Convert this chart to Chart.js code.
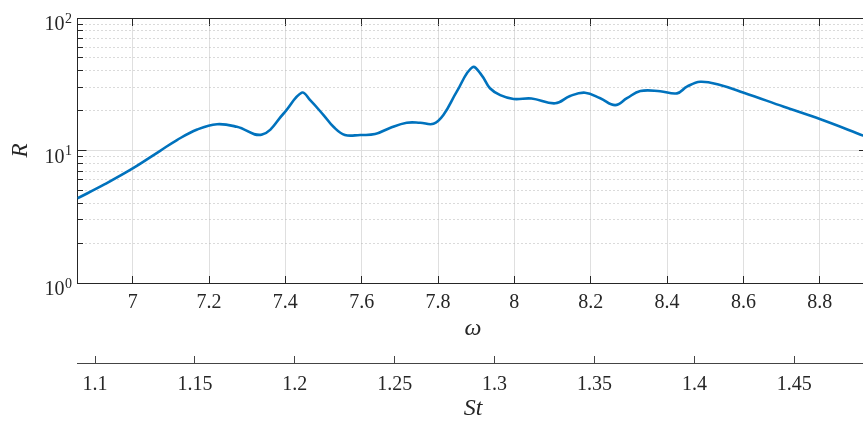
<!DOCTYPE html>
<html>
<head>
<meta charset="utf-8">
<script src="https://cdn.jsdelivr.net/npm/chart.js@4.4.1/dist/chart.umd.min.js"></script>
<style>
  html, body { margin: 0; padding: 0; background: #fff; overflow: hidden; }
  #wrap { width: 863px; height: 423px; overflow: hidden; }
</style>
</head>
<body>
<div id="wrap"><canvas id="chart" width="885" height="423"></canvas></div>
<script>
// response curve
const omega = [6.855, 6.927, 7.0, 7.072, 7.116, 7.169, 7.221, 7.273, 7.339, 7.396,
  7.443, 7.465, 7.5, 7.526, 7.556, 7.596, 7.635, 7.674, 7.718, 7.753,
  7.788, 7.814, 7.849, 7.89, 7.914, 7.936, 7.963, 7.998, 8.045, 8.107,
  8.146, 8.185, 8.225, 8.264, 8.295, 8.33, 8.382, 8.426, 8.452, 8.487,
  8.539, 8.601, 8.706, 8.802, 8.916];
const rValues = [4.35, 5.57, 7.32, 9.95, 12.0, 14.4, 15.8, 15.1, 13.2, 19.1,
  27.3, 24.0, 18.5, 15.1, 13.1, 13.1, 13.3, 14.8, 16.2, 16.2,
  15.9, 18.5, 27.8, 42.5, 37.1, 29.5, 26.2, 24.5, 24.7, 22.7,
  25.8, 27.3, 24.8, 22.0, 24.8, 28.1, 28.0, 27.0, 30.3, 33.0,
  31.2, 27.3, 21.4, 17.2, 12.9];

const omegaTicks = [7, 7.2, 7.4, 7.6, 7.8, 8, 8.2, 8.4, 8.6, 8.8];
const stTicks = [1.1, 1.15, 1.2, 1.25, 1.3, 1.35, 1.4, 1.45];
const rMajorTicks = [1, 10, 100];
const rMinorTicks = [2, 3, 4, 5, 6, 7, 8, 9, 20, 30, 40, 50, 60, 70, 80, 90];
const rTickExps = ['0', '1', '2'];

const omegaRange = [6.8554, 8.9278];
const stRange = [1.09124, 1.48714];

(function() {
  const ink = '#262626';
  const gridColor = '#dfdfdf';
  const minorGrid = '#b4b4b4';
  const serif = '"Liberation Serif", "Times New Roman", serif';
  const tickFont = { family: serif, size: 20 };
  const titleFont = { family: serif, size: 24, style: 'italic' };

  const setTicks = list => scale => { scale.ticks = list.map(v => ({ value: v })); };

  // 10^k labels on the R axis, drawn with a raised exponent
  const powerLabels = {
    id: 'powerLabels',
    afterDraw(chart) {
      const y = chart.scales.y;
      const ctx = chart.ctx;
      const right = 72;
      ctx.save();
      ctx.fillStyle = ink;
      ctx.textAlign = 'right';
      ctx.textBaseline = 'alphabetic';
      rMajorTicks.forEach((v, i) => {
        const py = y.getPixelForValue(v);
        ctx.font = '14px ' + serif;
        const expW = ctx.measureText(rTickExps[i]).width;
        ctx.fillText(rTickExps[i], right, py + 4.7);
        ctx.font = '20px ' + serif;
        ctx.fillText('10', right - expW - 0.5, py + 12.4);
      });
      ctx.restore();
    }
  };

  const ctx = document.getElementById('chart').getContext('2d');
  new Chart(ctx, {
    type: 'line',
    data: {
      datasets: [{
        data: omega.map((w, i) => ({ x: w, y: rValues[i] })),
        xAxisID: 'x',
        yAxisID: 'y',
        borderColor: '#0072BD',
        borderWidth: 2.6,
        pointRadius: 0,
        fill: false,
        tension: 0.4
      }]
    },
    options: {
      responsive: false,
      animation: false,
      events: [],
      layout: { padding: { left: 0, top: 18, right: 16.5, bottom: 0 } },
      plugins: { legend: { display: false }, tooltip: { enabled: false } },
      scales: {
        x: {
          type: 'linear', axis: 'x', position: 'bottom', weight: 0,
          min: omegaRange[0], max: omegaRange[1],
          afterBuildTicks: setTicks(omegaTicks),
          afterFit: s => { s.height = 80; },
          ticks: { font: tickFont, color: ink, padding: 15, maxRotation: 0, autoSkip: false,
                   callback: v => String(v) },
          grid: { color: gridColor, lineWidth: 1, tickLength: -7, tickColor: ink, tickWidth: 1 },
          border: { display: true, color: ink, width: 1 },
          title: { display: true, text: 'ω', font: titleFont, color: ink, padding: { top: 0, bottom: 20 } }
        },
        st: {
          type: 'linear', axis: 'x', position: 'bottom', weight: 1,
          min: stRange[0], max: stRange[1],
          afterBuildTicks: setTicks(stTicks),
          afterFit: s => { s.height = 60; },
          ticks: { font: tickFont, color: ink, padding: 17, maxRotation: 0, autoSkip: false,
                   callback: v => String(v) },
          grid: { drawOnChartArea: false, tickLength: -7, tickColor: '#444', tickWidth: 1 },
          border: { display: true, color: '#444', width: 1 },
          title: { display: true, text: 'St', font: titleFont, color: ink, padding: { top: 0, bottom: 0 } }
        },
        xTop: {
          type: 'linear', axis: 'x', position: { y: 100 },
          min: omegaRange[0], max: omegaRange[1],
          afterBuildTicks: setTicks(omegaTicks),
          ticks: { display: false },
          grid: { drawOnChartArea: false, tickLength: 7, tickColor: ink, tickWidth: 1 },
          border: { display: true, color: ink, width: 1 }
        },
        y: {
          type: 'logarithmic', axis: 'y', position: 'left',
          min: 1, max: 100,
          afterBuildTicks: setTicks(rMajorTicks),
          afterFit: s => { s.width = 77.5; },
          ticks: { display: false },
          grid: {
            color: c => (c.tick && c.tick.value === 10) ? gridColor : 'rgba(0,0,0,0)',
            tickLength: -9, tickColor: ink, tickWidth: 1
          },
          border: { display: true, color: ink, width: 1 },
          title: { display: true, text: 'R', color: ink,
                   font: { family: serif, size: 23, style: 'italic' }, padding: { top: 7, bottom: 0 } }
        },
        yMinor: {
          type: 'logarithmic', axis: 'y', position: { x: omegaRange[0] },
          min: 1, max: 100,
          afterBuildTicks: setTicks(rMinorTicks),
          ticks: { display: false },
          grid: { color: minorGrid, lineWidth: 1, tickLength: -5, tickColor: ink, tickWidth: 1 },
          border: { display: false, dash: [1, 3] }
        },
        yRight: {
          type: 'logarithmic', axis: 'y', position: { x: omegaRange[1] },
          min: 1, max: 100,
          afterBuildTicks: setTicks(rMajorTicks),
          ticks: { display: false },
          grid: { drawOnChartArea: false, tickLength: 9, tickColor: ink, tickWidth: 1 },
          border: { display: true, color: ink, width: 1 }
        }
      }
    },
    plugins: [powerLabels]
  });
})();
</script>
</body>
</html>
